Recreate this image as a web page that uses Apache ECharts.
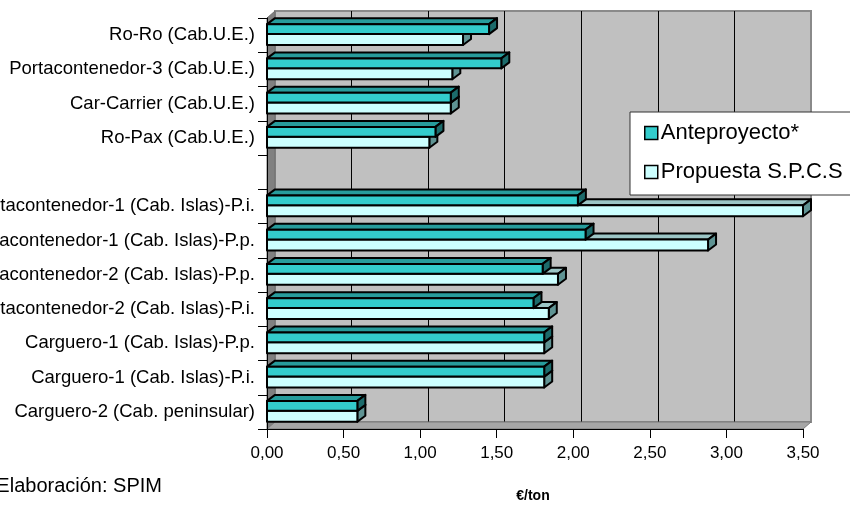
<!DOCTYPE html>
<html><head><meta charset="utf-8">
<script src="https://cdn.jsdelivr.net/npm/echarts@6/dist/echarts.min.js"></script>
<style>html,body{margin:0;padding:0;background:#fff}#c{width:850px;height:509px}</style>
</head><body><div id="c"></div>
<script>
// ---- data ----
const categories = [
  'Ro-Ro (Cab.U.E.)',
  'Portacontenedor-3 (Cab.U.E.)',
  'Car-Carrier (Cab.U.E.)',
  'Ro-Pax (Cab.U.E.)',
  '',
  'Portacontenedor-1 (Cab. Islas)-P.i.',
  'Portacontenedor-1 (Cab. Islas)-P.p.',
  'Portacontenedor-2 (Cab. Islas)-P.p.',
  'Portacontenedor-2 (Cab. Islas)-P.i.',
  'Carguero-1 (Cab. Islas)-P.p.',
  'Carguero-1 (Cab. Islas)-P.i.',
  'Carguero-2 (Cab. peninsular)'
];
const anteproyecto = [1.45, 1.53, 1.20, 1.10, null, 2.03, 2.08, 1.80, 1.74, 1.81, 1.81, 0.59];
const propuesta    = [1.28, 1.21, 1.20, 1.06, null, 3.50, 2.88, 1.90, 1.84, 1.81, 1.81, 0.59];
const seriesNames = ['Anteproyecto*', 'Propuesta S.P.C.S'];
const xMin = 0, xMax = 3.5, xStep = 0.5;
const axisTitle = '€/ton';
const footnote = 'Elaboración: SPIM';

// ---- style ----
const FONT = "'Liberation Sans', Arial, sans-serif";
const G = {left: 267, top: 18, width: 536, height: 411};
const DX = 8, DY = -7;     // back wall depth
const BDX = 8, BDY = -6;   // bar depth
const colA = {front: '#33CCCC', top: '#279C9C', side: '#1C6B6B'};
const colP = {front: '#CCFFFF', top: '#9CC6C6', side: '#5F9393'};

function barRender(upper, col) {
  return function (params, api) {
    const v = api.value(0);
    const idx = api.value(1);
    if (v == null || isNaN(v)) return;
    const p0 = api.coord([0, idx]);
    const p1 = api.coord([v, idx]);
    const bw = api.size([0, 1])[1];
    const cy = p0[1];
    const top = upper ? cy - 0.32 * bw : cy - 0.03 * bw;
    const bot = upper ? cy - 0.03 * bw : cy + 0.29 * bw;
    const x0 = p0[0], x1 = p1[0];
    const ls = {stroke: '#000', lineWidth: 2, lineJoin: 'round'};
    return {
      type: 'group',
      children: [
        {type: 'polygon', shape: {points: [[x0, top], [x0 + BDX, top + BDY], [x1 + BDX, top + BDY], [x1, top]]},
          style: Object.assign({fill: col.top}, ls)},
        {type: 'polygon', shape: {points: [[x1, top], [x1 + BDX, top + BDY], [x1 + BDX, bot + BDY], [x1, bot]]},
          style: Object.assign({fill: col.side}, ls)},
        {type: 'rect', shape: {x: x0, y: top, width: x1 - x0, height: bot - top},
          style: Object.assign({fill: col.front}, ls)}
      ]
    };
  };
}

function wallsRender(params, api) {
  const cs = params.coordSys;
  const x = cs.x, y = cs.y, w = cs.width, h = cs.height;
  return {
    type: 'group',
    children: [
      {type: 'polygon', shape: {points: [[x, y], [x + DX, y + DY], [x + DX, y + h + DY], [x, y + h]]},
        style: {fill: '#808080', stroke: '#6E6E6E', lineWidth: 1}},
      {type: 'polygon', shape: {points: [[x, y + h], [x + DX, y + h + DY], [x + w + DX, y + h + DY], [x + w, y + h]]},
        style: {fill: '#A6A6A6', stroke: '#7A7A7A', lineWidth: 1}}
    ]
  };
}

const chart = echarts.init(document.getElementById('c'), null, {renderer: 'canvas'});
const fmt = v => v.toFixed(2).replace('.', ',');
const splitColors = [];
for (let v = xMin; v <= xMax + 1e-9; v += xStep) splitColors.push((v === xMin || v >= xMax - 1e-9) ? '#8A8A8A' : '#000');

chart.setOption({
  animation: false,
  textStyle: {fontFamily: FONT},
  grid: [
    {left: G.left, top: G.top, width: G.width, height: G.height, containLabel: false, outerBoundsMode: 'none'},
    {left: G.left + DX, top: G.top + DY, width: G.width, height: G.height, show: true,
      containLabel: false, outerBoundsMode: 'none',
      backgroundColor: '#C0C0C0', borderColor: '#8A8A8A', borderWidth: 2}
  ],
  xAxis: [
    {gridIndex: 0, type: 'value', min: xMin, max: xMax, interval: xStep, z: 5,
      axisLine: {show: true, lineStyle: {color: '#000', width: 1}},
      axisTick: {show: true, length: 9, lineStyle: {color: '#000'}},
      axisLabel: {formatter: fmt, fontSize: 17, color: '#000', margin: 16, fontFamily: FONT},
      splitLine: {show: false}},
    {gridIndex: 1, type: 'value', min: xMin, max: xMax, interval: xStep,
      axisLine: {show: false}, axisTick: {show: false}, axisLabel: {show: false},
      splitLine: {show: true, lineStyle: {color: splitColors, width: 1}}}
  ],
  yAxis: [
    {gridIndex: 0, type: 'category', data: categories, inverse: true, z: 5,
      axisLine: {show: true, lineStyle: {color: '#000', width: 1}},
      axisTick: {show: true, length: 9, lineStyle: {color: '#000'}},
      axisLabel: {fontSize: 18.5, color: '#000', margin: 12, fontFamily: FONT, interval: 0},
      splitLine: {show: false}},
    {gridIndex: 1, type: 'category', data: categories, inverse: true, show: false}
  ],
  legend: {
    orient: 'vertical', left: 630, top: 112, selectedMode: false,
    data: [
      {name: seriesNames[0], itemStyle: {color: colA.front, borderColor: '#000', borderWidth: 1.5}},
      {name: seriesNames[1], itemStyle: {color: colP.front, borderColor: '#000', borderWidth: 1.5}}
    ],
    icon: 'rect', itemWidth: 13, itemHeight: 13, itemGap: 17,
    textStyle: {fontSize: 22, color: '#000', fontFamily: FONT, padding: [0, 0, 0, -2]},
    backgroundColor: '#fff', borderColor: '#333', borderWidth: 1,
    padding: [10, 8, 12, 14]
  },
  graphic: [
    {type: 'text', x: 533, y: 496, style: {text: axisTitle, fontSize: 14, fontWeight: 'bold', fontFamily: FONT,
      fill: '#000', textAlign: 'center', textVerticalAlign: 'middle'}},
    {type: 'text', x: 162, y: 486, style: {text: footnote, fontSize: 20, fontFamily: FONT,
      fill: '#000', textAlign: 'right', textVerticalAlign: 'middle'}}
  ],
  series: [
    {type: 'custom', name: 'walls', xAxisIndex: 0, yAxisIndex: 0, z: 1, silent: true,
      renderItem: wallsRender, data: [[0, 0]]},
    {type: 'custom', name: seriesNames[1], xAxisIndex: 0, yAxisIndex: 0, z: 2,
      itemStyle: {color: colP.front},
      renderItem: barRender(false, colP),
      data: propuesta.map((v, i) => [v, i])},
    {type: 'custom', name: seriesNames[0], xAxisIndex: 0, yAxisIndex: 0, z: 2,
      itemStyle: {color: colA.front},
      renderItem: barRender(true, colA),
      data: anteproyecto.map((v, i) => [v, i])}
  ]
});
</script></body></html>
